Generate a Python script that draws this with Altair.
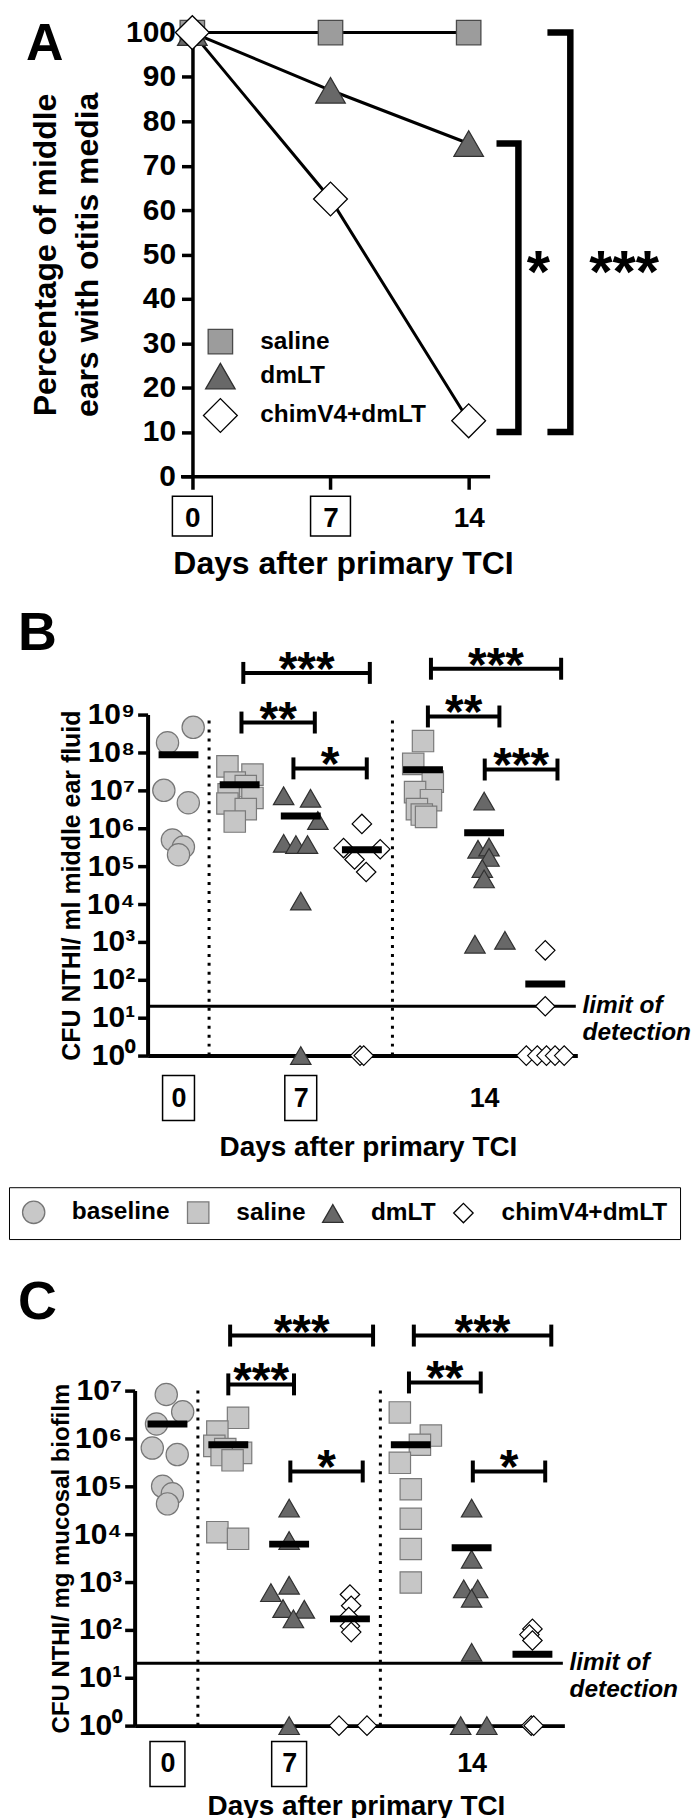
import altair as alt
import pandas as pd

FONT = "Liberation Sans, Arial, sans-serif"

# ---------------- Panel A data ----------------
A_DAYS = [0, 7, 14]
A_SALINE = [100, 100, 100]
A_DMLT = [100, 87, 75]
A_CHIM = [100, 62.5, 12.5]
A_GROUPS = ["saline", "dmLT", "chimV4+dmLT"]
A_BOXED = [0, 7]
A_SIG_TOP = [75, 100]
A_SIG_BOTTOM = [10, 10]
A_SIG_LABEL = ["*", "***"]

# ---------------- Panels B / C common ----------------
GROUPS = ["baseline", "saline", "dmLT", "chimV4+dmLT"]
SLOT_GROUP = ["baseline", "saline", "dmLT", "chimV4+dmLT", "saline", "dmLT", "chimV4+dmLT"]
DAY_LABELS = ["0", "7", "14"]
DAY_SLOTS = [0, 2, 5]
BOXED_SLOTS = [0, 2]
SEPARATORS = [0.5, 3.5]
LOD = 20

# ---------------- Panel B data (CFU / ml middle ear fluid) ----------------
B_VALUES = [
    [4.6e8, 1.8e8, 1.0e7, 4.7e6, 4.9e5, 3.2e5, 2.0e5],
    [4.3e7, 2.6e7, 1.6e7, 1.3e7, 7.9e6, 6.3e6, 4.5e6, 3.2e6, 1.5e6],
    [7.2e6, 6.2e6, 1.6e6, 4.0e5, 3.7e5, 3.7e5, 1.2e4, 1],
    [1.3e6, 3.0e5, 2.8e5, 1.5e5, 7.0e4, 1, 1],
    [2.0e8, 5.0e7, 1.7e7, 9.0e6, 5.5e6, 3.2e6, 2.3e6, 2.0e6],
    [5.2e6, 2.8e5, 3.2e5, 1.7e5, 8.7e4, 4.6e4, 870, 1100],
    [600, 20, 1, 1, 1, 1, 1],
]
B_SPREAD = [
    [0.24, -0.18, -0.24, 0.16, -0.10, 0.08, 0.0],
    [-0.20, 0.21, -0.08, 0.10, -0.18, 0.21, -0.20, 0.10, -0.08],
    [-0.28, 0.16, 0.28, -0.28, -0.08, 0.11, 0.0, 0.0],
    [0.0, -0.30, 0.30, -0.12, 0.07, -0.03, 0.03],
    [0.0, -0.16, 0.16, -0.13, 0.13, -0.10, -0.02, 0.05],
    [0.0, -0.10, 0.08, 0.08, -0.03, 0.0, -0.15, 0.34],
    [0.0, 0.0, -0.31, -0.13, 0.02, 0.16, 0.31],
]
B_MEANS = [8.7e7, 1.4e7, 2.1e6, 2.7e5, 3.5e7, 7.6e5, 78]
B_SIG_FROM = [1.06, 1.03, 1.88, 4.13, 4.08, 5.01]
B_SIG_TO = [3.13, 2.23, 3.08, 6.26, 5.25, 6.20]
B_SIG_LOG = [10.10, 8.79, 7.58, 10.21, 8.95, 7.55]
B_SIG_LABEL = ["***", "**", "*", "***", "**", "***"]

# ---------------- Panel C data (CFU / mg mucosal biofilm) ----------------
C_VALUES = [
    [8.3e6, 3.6e6, 2.0e6, 6.3e5, 4.6e5, 1.0e5, 7.0e4, 4.3e4],
    [2.7e6, 1.4e6, 7.0e5, 6.0e5, 5.0e5, 4.5e5, 3.5e5, 1.1e4, 8.0e3],
    [3.5e4, 7.4e3, 860, 600, 280, 270, 170, 1],
    [550, 320, 185, 120, 90, 1, 1],
    [3.5e6, 1.15e6, 7.4e5, 3.1e5, 8.7e4, 2.1e4, 4.9e3, 980],
    [3.5e4, 3.0e3, 720, 720, 460, 34, 1, 1],
    [105, 80, 60, 1, 1],
]
C_SPREAD = [
    [-0.02, 0.25, -0.18, -0.25, 0.16, -0.08, 0.08, 0.0],
    [0.16, -0.18, -0.23, -0.05, 0.21, -0.11, 0.07, -0.18, 0.16],
    [0.0, 0.0, 0.0, -0.30, -0.10, 0.25, 0.07, 0.0],
    [0.0, 0.02, -0.02, 0.0, 0.02, -0.18, 0.28],
    [-0.18, 0.33, 0.15, -0.18, 0.0, 0.0, 0.0, 0.0],
    [0.0, 0.0, -0.13, 0.10, 0.0, 0.0, -0.18, 0.25],
    [0.0, -0.05, 0.0, -0.02, 0.02],
]
C_MEANS = [2.0e6, 7.4e5, 6.2e3, 170, 7.4e5, 5.2e3, 31]
C_SIG_FROM = [1.03, 1.00, 2.02, 4.05, 3.97, 5.02]
C_SIG_TO = [3.38, 2.08, 3.21, 6.31, 5.15, 6.21]
C_SIG_LOG = [8.15, 7.13, 5.31, 8.15, 7.17, 5.31]
C_SIG_LABEL = ["***", "***", "*", "***", "**", "*"]

# ---------------- styles ----------------
SHAPES = ["circle", "square", "triangle-up", "diamond"]
FILLS = ["#c8c8c8", "#c6c6c6", "#686868", "#ffffff"]
STROKES = ["#767676", "#7a7a7a", "#303030", "#000000"]
SIZES = [500, 380, 700, 730]
A_SHAPES = ["square", "triangle-up", "diamond"]
A_FILLS = ["#9c9c9c", "#686868", "#ffffff"]
A_STROKES = ["#4a4a4a", "#303030", "#000000"]
A_SIZES = [600, 1150, 1150]
ANCHOR_X = -126

SUPERS = "⁰¹²³⁴⁵⁶⁷⁸⁹"
LOG_LABEL_EXPR = "'10' + [" + ",".join("'%s'" % c for c in SUPERS) + "][round(log(datum.value) / LN10)]"


def label_expr(values, labels):
    expr = "''"
    for v, l in reversed(list(zip(values, labels))):
        expr = "datum.value == %s ? '%s' : (%s)" % (v, l, expr)
    return expr


# ======================= Panel A =======================
dfA = pd.DataFrame({
    "day": A_DAYS * 3,
    "pct": A_SALINE + A_DMLT + A_CHIM,
    "group": [g for g in A_GROUPS for _ in A_DAYS],
})
xscA = alt.Scale(domain=[-0.6, 15.06], range=[46, 356], nice=False, zero=False)
yscA = alt.Scale(domain=[0, 100], nice=False)
xA_axis = alt.Axis(values=A_DAYS, tickSize=13, tickWidth=3.5, domainWidth=3.5,
                   labelFontSize=28, labelPadding=15, labelFlush=False,
                   title="Days after primary TCI", titleFontSize=32, titleX=209, titleY=97,
                   titleBaseline="alphabetic", titleAlign="center")
yA_axis = alt.Axis(values=list(range(0, 101, 10)), tickSize=11, tickWidth=3.5, domainWidth=3.5,
                   labelFontSize=30, labelPadding=6, offset=-58, labelFlush=False, labelOverlap=False,
                   title=["Percentage of middle", "ears with otitis media"], titleFontSize=32,
                   titleLineHeight=42, titleX=-130, titleY=222.5, titleBaseline="bottom",
                   titleAlign="center")


def XA(f):
    return alt.X(f, scale=xscA, axis=xA_axis)


def YA(f):
    return alt.Y(f, scale=yscA, axis=yA_axis)


legA = alt.Legend(orient="none", legendX=68, legendY=297, direction="vertical", title=None,
                  labelFontSize=24.5, labelFont=FONT, labelFontWeight="bold", labelColor="black",
                  labelOffset=22, rowPadding=4, symbolStrokeWidth=1.3, padding=0, labelLimit=400)

dummyA = pd.DataFrame({"t": ["A"]})
anchorA = alt.Chart(dummyA).mark_rule(color="white", strokeWidth=1).encode(
    x=alt.value(ANCHOR_X), y=alt.value(-21), y2=alt.value(553))

boxA = alt.Chart(pd.DataFrame({"day": A_BOXED})).mark_point(
    shape="square", size=1600, filled=False, stroke="black", strokeWidth=1.5, opacity=1
).encode(x=XA("day:Q"), y=alt.value(485))

linesA = alt.Chart(dfA).mark_line(color="black", strokeWidth=3).encode(
    x=XA("day:Q"), y=YA("pct:Q"), detail="group:N")
ptsA = alt.Chart(dfA).mark_point(filled=True, opacity=1, strokeWidth=1.3).encode(
    x=XA("day:Q"), y=YA("pct:Q"),
    shape=alt.Shape("group:N", scale=alt.Scale(domain=A_GROUPS, range=A_SHAPES), legend=legA),
    fill=alt.Fill("group:N", scale=alt.Scale(domain=A_GROUPS, range=A_FILLS), legend=legA),
    stroke=alt.Stroke("group:N", scale=alt.Scale(domain=A_GROUPS, range=A_STROKES), legend=legA),
    size=alt.Size("group:N", scale=alt.Scale(domain=A_GROUPS, range=A_SIZES), legend=legA),
)

A_BR_ARM = [15.41, 17.99]
A_BR_BAR = [16.52, 19.15]
A_STAR_X = [17.53, 21.88]
rows = []
for i in range(2):
    pts = [(A_BR_ARM[i], A_SIG_TOP[i]), (A_BR_BAR[i], A_SIG_TOP[i]),
           (A_BR_BAR[i], A_SIG_BOTTOM[i]), (A_BR_ARM[i], A_SIG_BOTTOM[i])]
    for k, (xx, yy) in enumerate(pts):
        rows.append({"id": i, "o": k, "day": xx, "pct": yy})
brA = alt.Chart(pd.DataFrame(rows)).mark_line(color="black", strokeWidth=6.5, strokeJoin="miter").encode(
    x=XA("day:Q"), y=YA("pct:Q"), detail="id:N", order="o:Q")
starA = alt.Chart(pd.DataFrame({"day": A_STAR_X, "pct": [49.2, 49.2], "t": A_SIG_LABEL})).mark_text(
    font=FONT, fontSize=60, fontWeight="bold", color="black", align="center", baseline="alphabetic", dy=34
).encode(x=XA("day:Q"), y=YA("pct:Q"), text="t:N")
letterA = alt.Chart(dummyA).mark_text(font=FONT, fontSize=52, fontWeight="bold", color="black",
                                      align="left", baseline="alphabetic").encode(
    x=alt.value(-109), y=alt.value(27), text="t:N")

panelA = alt.layer(anchorA, boxA, linesA, ptsA, brA, starA, letterA).properties(width=356, height=445)


# ======================= Panels B and C =======================
def points_df(values, spreads):
    out = []
    for slot, (vals, sp) in enumerate(zip(values, spreads)):
        for v, s in zip(vals, sp):
            out.append({"group": SLOT_GROUP[slot], "x": slot + s, "value": v})
    return pd.DataFrame(out)


def dot_panel(values, spreads, means, sig_from, sig_to, sig_log, sig_label, p):
    xsc = alt.Scale(domain=p["x_domain"], range=p["x_range"], nice=False, zero=False)
    top = 10 ** p["top_exp"]
    ysc = alt.Scale(type="log", domain=[1, top], nice=False)
    x_axis = alt.Axis(values=DAY_SLOTS, labelExpr=label_expr(DAY_SLOTS, DAY_LABELS), ticks=False, tickSize=0,
                      domainWidth=4, labelFontSize=27, labelPadding=p["label_pad"], labelFlush=False,
                      title="Days after primary TCI", titleFontSize=28, titleX=p["x_title_x"],
                      titleY=p["x_title_y"], titleBaseline="alphabetic", titleAlign="center")
    y_axis = alt.Axis(values=[10 ** k for k in range(p["top_exp"] + 1)], labelExpr=LOG_LABEL_EXPR,
                      tickSize=10, tickWidth=3.5, domainWidth=4, labelFontSize=30, labelPadding=3,
                      offset=p["axis_offset"], labelOverlap=False, labelFlush=False,
                      title=p["y_title"], titleFontSize=p["y_title_size"], titleX=p["y_title_x"],
                      titleY=p["height"] / 2, titleBaseline="bottom", titleAlign="center")

    def X(f):
        return alt.X(f, scale=xsc, axis=x_axis)

    def Y(f):
        return alt.Y(f, scale=ysc, axis=y_axis)

    dummy = pd.DataFrame({"t": [p["letter"]]})
    anchor = alt.Chart(dummy).mark_rule(color="white", strokeWidth=1).encode(
        x=alt.value(ANCHOR_X), y=alt.value(p["anchor_top"]), y2=alt.value(p["anchor_bottom"]))

    sep = alt.Chart(pd.DataFrame({"x": SEPARATORS, "value": [1] * len(SEPARATORS),
                                  "y2": [top] * len(SEPARATORS)})
                    ).mark_rule(color="black", strokeWidth=3, strokeDash=[3, 6]).encode(
        x=X("x:Q"), y=Y("value:Q"), y2="y2:Q")

    lod = alt.Chart(pd.DataFrame({"x": [p["x_domain"][0]], "x2": [6.5], "value": [LOD]})).mark_rule(
        color="black", strokeWidth=3).encode(x=X("x:Q"), x2="x2:Q", y=Y("value:Q"))

    boxes = alt.Chart(pd.DataFrame({"x": BOXED_SLOTS})).mark_point(
        shape=p["box_path"], size=2025, filled=False, stroke="black", strokeWidth=1.5, opacity=1
    ).encode(x=X("x:Q"), y=alt.value(p["box_y"]))

    leg = p["legend"]
    pts = alt.Chart(points_df(values, spreads)).mark_point(filled=True, opacity=1, strokeWidth=1.2).encode(
        x=X("x:Q"), y=Y("value:Q"),
        shape=alt.Shape("group:N", scale=alt.Scale(domain=GROUPS, range=SHAPES), legend=leg),
        fill=alt.Fill("group:N", scale=alt.Scale(domain=GROUPS, range=FILLS), legend=leg),
        stroke=alt.Stroke("group:N", scale=alt.Scale(domain=GROUPS, range=STROKES), legend=leg),
        size=alt.Size("group:N", scale=alt.Scale(domain=GROUPS, range=SIZES), legend=leg),
    )

    mean = alt.Chart(pd.DataFrame({"x": list(range(len(means))), "value": means})).mark_tick(
        orient="horizontal", size=40, thickness=7, color="black", opacity=1).encode(
        x=X("x:Q"), y=Y("value:Q"))

    cap = 10 ** (11.0 / p["px_per_decade"])
    br = pd.DataFrame({"x": sig_from, "x2": sig_to, "value": [10 ** v for v in sig_log], "t": sig_label})
    br["lo"] = br["value"] / cap
    br["hi"] = br["value"] * cap
    br["mid"] = (br["x"] + br["x2"]) / 2
    hline = alt.Chart(br).mark_rule(color="black", strokeWidth=4).encode(
        x=X("x:Q"), x2="x2:Q", y=Y("value:Q"))
    lcap = alt.Chart(br).mark_rule(color="black", strokeWidth=4).encode(
        x=X("x:Q"), y=Y("lo:Q"), y2="hi:Q")
    rcap = alt.Chart(br).mark_rule(color="black", strokeWidth=4).encode(
        x=X("x2:Q"), y=Y("lo:Q"), y2="hi:Q")
    stars = alt.Chart(br).mark_text(font=FONT, fontSize=48, fontWeight="bold", color="black",
                                    align="center", baseline="alphabetic", dy=12).encode(
        x=X("mid:Q"), y=Y("value:Q"), text="t:N")

    lodtxt = alt.Chart(pd.DataFrame({"x": [6.61], "value": [LOD]})).mark_text(
        font=FONT, fontSize=24.5, fontWeight="bold", fontStyle="italic", color="black",
        align="left", baseline="middle", lineHeight=27).encode(
        x=X("x:Q"), y=Y("value:Q"), text=alt.value(["limit of", "detection"]))

    letter = alt.Chart(dummy).mark_text(font=FONT, fontSize=54, fontWeight="bold", color="black",
                                        align="left", baseline="alphabetic").encode(
        x=alt.value(p["letter_x"]), y=alt.value(p["letter_y"]), text="t:N")

    return alt.layer(anchor, sep, lod, boxes, pts, mean, hline, lcap, rcap, stars, lodtxt, letter).properties(
        width=p["x_range"][1], height=p["height"])


legB = alt.Legend(orient="none", legendX=-126, legendY=474, direction="horizontal", title=None,
                  labelFontSize=24.5, labelFont=FONT, labelFontWeight="bold", labelColor="black",
                  labelOffset=26, columnPadding=14, padding=12.5, strokeColor="black", fillColor="white",
                  symbolStrokeWidth=1.3, labelLimit=400)

panelB = dot_panel(B_VALUES, B_SPREAD, B_MEANS, B_SIG_FROM, B_SIG_TO, B_SIG_LOG, B_SIG_LABEL, {
    "letter": "B", "top_exp": 9, "height": 342, "px_per_decade": 38.0,
    "x_domain": [-0.506, 6.525], "x_range": [13, 444], "axis_offset": -13,
    "y_title": "CFU  NTHI/ ml middle ear fluid", "y_title_size": 25, "y_title_x": -63,
    "x_title_x": 234, "x_title_y": 100, "label_pad": 30,
    "box_path": "M-0.711,-1L0.711,-1L0.711,1L-0.711,1Z", "box_y": 384.5,
    "letter_x": -117, "letter_y": -65, "anchor_top": -129, "anchor_bottom": 534, "legend": legB,
})

panelC = dot_panel(C_VALUES, C_SPREAD, C_MEANS, C_SIG_FROM, C_SIG_TO, C_SIG_LOG, C_SIG_LABEL, {
    "letter": "C", "top_exp": 7, "height": 336, "px_per_decade": 48.0,
    "x_domain": [-0.54, 6.525], "x_range": [0, 431], "axis_offset": 0,
    "y_title": "CFU  NTHI/ mg mucosal biofilm", "y_title_size": 24, "y_title_x": -61,
    "x_title_x": 222, "x_title_y": 89, "label_pad": 25,
    "box_path": "M-0.778,-1L0.778,-1L0.778,1L-0.778,1Z", "box_y": 374.5,
    "letter_x": -117, "letter_y": -72, "anchor_top": -142, "anchor_bottom": 0, "legend": None,
})

chart = alt.vconcat(panelA, panelB, panelC, spacing=0).resolve_scale(
    shape="independent", fill="independent", stroke="independent", size="independent"
).resolve_legend(
    shape="independent", fill="independent", stroke="independent", size="independent"
).properties(padding=0).configure_view(strokeWidth=0).configure_axis(
    grid=False, labelFont=FONT, titleFont=FONT, labelFontWeight="bold", titleFontWeight="bold",
    labelColor="black", titleColor="black", domainColor="black", tickColor="black"
)

chart.save("out.html", embed_options={"renderer": "svg", "actions": False})
